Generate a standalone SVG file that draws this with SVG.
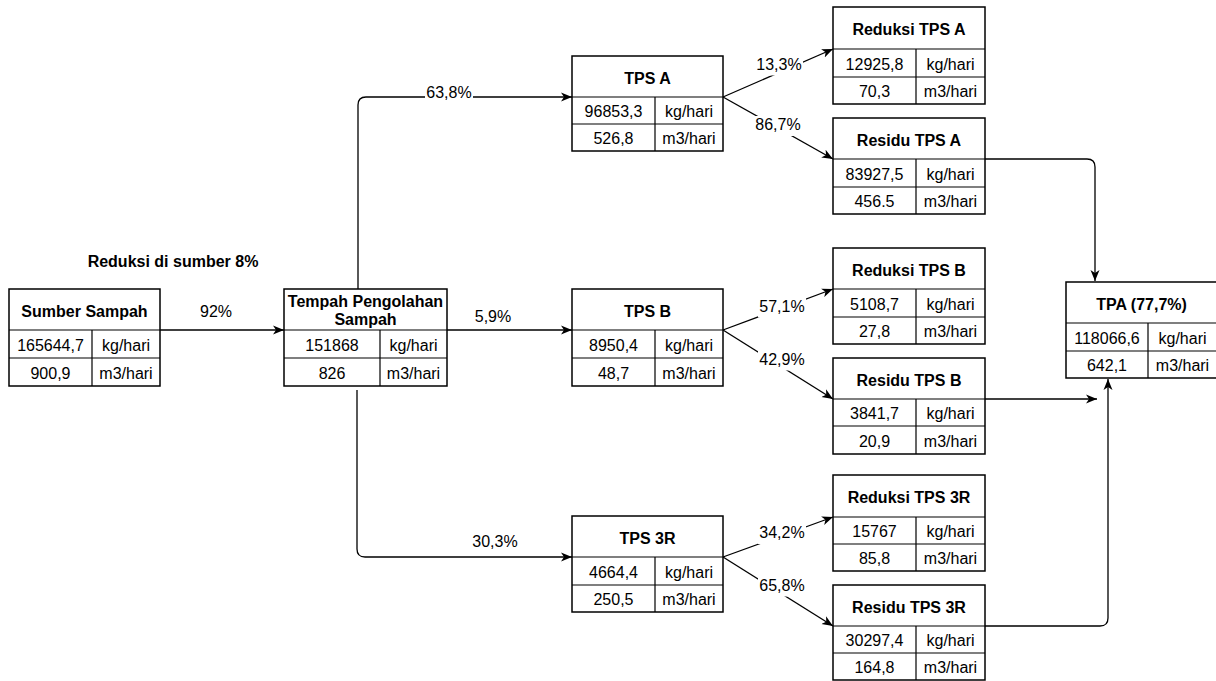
<svg xmlns="http://www.w3.org/2000/svg" width="1216" height="681" viewBox="0 0 1216 681">
<style>
.box{fill:#fff;stroke:#000;stroke-width:1.5}
.ln{fill:none;stroke:#000;stroke-width:1.2}
.hd{font-family:"Liberation Sans",Arial,sans-serif;font-size:16px;font-weight:bold;text-anchor:middle;fill:#000}
.tx{font-family:"Liberation Sans",Arial,sans-serif;font-size:16px;text-anchor:middle;fill:#000}
.edge{fill:none;stroke:#000;stroke-width:1.3;marker-end:url(#arr)}
.lb{fill:#fff}
</style>
<defs>
<marker id="arr" markerUnits="userSpaceOnUse" markerWidth="12" markerHeight="10" viewBox="0 0 12 10" refX="11" refY="5" orient="auto">
<path d="M0,0.5 L11,5 L0,9.5 L3,5 Z" fill="#000"/>
</marker>
</defs>
<rect width="1216" height="681" fill="#fff"/>

<g id="connectors">
<path class="edge" d="M160,330 H284"/>
<path class="edge" d="M358,289 V105 Q358,97 366,97 H572"/>
<path class="edge" d="M447,330 H572"/>
<path class="edge" d="M357,390 V549 Q357,557 365,557 H572"/>
<path class="edge" d="M723,97 L833,49"/>
<path class="edge" d="M723,97 L833,159"/>
<path class="edge" d="M723,330 L833,289"/>
<path class="edge" d="M723,330 L833,399"/>
<path class="edge" d="M723,557 L833,517"/>
<path class="edge" d="M723,557 L833,626"/>
<path class="edge" d="M985,159 H1087 Q1095,159 1095,167 V281"/>
<path class="edge" d="M985,399 H1097"/>
<path class="edge" d="M985,626 H1100 Q1108,626 1108,618 V379"/>
<g id="edge-labels">
<text class="tx" x="216" y="317">92%</text>
<rect class="lb" x="425" y="84" width="48" height="20"/>
<text class="tx" x="449" y="97.5">63,8%</text>
<text class="tx" x="493" y="321.5">5,9%</text>
<text class="tx" x="495" y="546.5">30,3%</text>
<rect class="lb" x="755" y="55.5" width="48" height="20"/>
<text class="tx" x="779" y="69.5">13,3%</text>
<rect class="lb" x="754" y="116" width="48" height="20"/>
<text class="tx" x="778" y="130">86,7%</text>
<rect class="lb" x="758" y="297.5" width="48" height="20"/>
<text class="tx" x="782" y="311.5">57,1%</text>
<rect class="lb" x="758" y="350.5" width="48" height="20"/>
<text class="tx" x="782" y="364.5">42,9%</text>
<rect class="lb" x="758" y="524" width="48" height="20"/>
<text class="tx" x="782" y="538">34,2%</text>
<rect class="lb" x="758" y="576.5" width="48" height="20"/>
<text class="tx" x="782" y="590.5">65,8%</text>
</g>
</g>

<g id="note">
<text class="hd" x="173" y="266.5">Reduksi di sumber 8%</text>
</g>

<g id="sumber">
<rect class="box" x="9" y="289" width="151" height="97"/>
<path class="ln" d="M9,330 H160 M9,358 H160 M92,330 V386"/>
<text class="hd" x="84.5" y="316.5">Sumber Sampah</text>
<text class="tx" x="50.5" y="350.5">165644,7</text>
<text class="tx" x="126" y="350.5">kg/hari</text>
<text class="tx" x="50.5" y="378.5">900,9</text>
<text class="tx" x="126" y="378.5">m3/hari</text>
</g>

<g id="tempah">
<rect class="box" x="284" y="289" width="163" height="97"/>
<path class="ln" d="M284,330 H447 M284,358 H447 M380,330 V386"/>
<text class="hd" x="365.5" y="307">Tempah Pengolahan</text>
<text class="hd" x="365.5" y="325">Sampah</text>
<text class="tx" x="332" y="350.5">151868</text>
<text class="tx" x="413.5" y="350.5">kg/hari</text>
<text class="tx" x="332" y="378.5">826</text>
<text class="tx" x="413.5" y="378.5">m3/hari</text>
</g>

<g id="tps-a">
<rect class="box" x="572" y="56" width="151" height="95"/>
<path class="ln" d="M572,97 H723 M572,124 H723 M655,97 V151"/>
<text class="hd" x="647.5" y="83.5">TPS A</text>
<text class="tx" x="613.5" y="117">96853,3</text>
<text class="tx" x="689" y="117">kg/hari</text>
<text class="tx" x="613.5" y="144">526,8</text>
<text class="tx" x="689" y="144">m3/hari</text>
</g>

<g id="tps-b">
<rect class="box" x="572" y="289" width="151" height="97"/>
<path class="ln" d="M572,330 H723 M572,358 H723 M655,330 V386"/>
<text class="hd" x="647.5" y="316.5">TPS B</text>
<text class="tx" x="613.5" y="350.5">8950,4</text>
<text class="tx" x="689" y="350.5">kg/hari</text>
<text class="tx" x="613.5" y="378.5">48,7</text>
<text class="tx" x="689" y="378.5">m3/hari</text>
</g>

<g id="tps-3r">
<rect class="box" x="572" y="516" width="151" height="96"/>
<path class="ln" d="M572,557 H723 M572,585 H723 M655,557 V612"/>
<text class="hd" x="647.5" y="543.5">TPS 3R</text>
<text class="tx" x="613.5" y="577.5">4664,4</text>
<text class="tx" x="689" y="577.5">kg/hari</text>
<text class="tx" x="613.5" y="605">250,5</text>
<text class="tx" x="689" y="605">m3/hari</text>
</g>

<g id="reduksi-tps-a">
<rect class="box" x="833" y="7" width="152" height="97"/>
<path class="ln" d="M833,49 H985 M833,77 H985 M916,49 V104"/>
<text class="hd" x="909" y="35">Reduksi TPS A</text>
<text class="tx" x="874.5" y="69.5">12925,8</text>
<text class="tx" x="950.5" y="69.5">kg/hari</text>
<text class="tx" x="874.5" y="97">70,3</text>
<text class="tx" x="950.5" y="97">m3/hari</text>
</g>

<g id="residu-tps-a">
<rect class="box" x="833" y="118" width="152" height="96"/>
<path class="ln" d="M833,159 H985 M833,187 H985 M916,159 V214"/>
<text class="hd" x="909" y="145.5">Residu TPS A</text>
<text class="tx" x="874.5" y="179.5">83927,5</text>
<text class="tx" x="950.5" y="179.5">kg/hari</text>
<text class="tx" x="874.5" y="207">456.5</text>
<text class="tx" x="950.5" y="207">m3/hari</text>
</g>

<g id="reduksi-tps-b">
<rect class="box" x="833" y="248" width="152" height="96"/>
<path class="ln" d="M833,289 H985 M833,317 H985 M916,289 V344"/>
<text class="hd" x="909" y="275.5">Reduksi TPS B</text>
<text class="tx" x="874.5" y="309.5">5108,7</text>
<text class="tx" x="950.5" y="309.5">kg/hari</text>
<text class="tx" x="874.5" y="337">27,8</text>
<text class="tx" x="950.5" y="337">m3/hari</text>
</g>

<g id="residu-tps-b">
<rect class="box" x="833" y="358" width="152" height="96"/>
<path class="ln" d="M833,399 H985 M833,426 H985 M916,399 V454"/>
<text class="hd" x="909" y="385.5">Residu TPS B</text>
<text class="tx" x="874.5" y="419">3841,7</text>
<text class="tx" x="950.5" y="419">kg/hari</text>
<text class="tx" x="874.5" y="446.5">20,9</text>
<text class="tx" x="950.5" y="446.5">m3/hari</text>
</g>

<g id="reduksi-tps-3r">
<rect class="box" x="833" y="475" width="152" height="96"/>
<path class="ln" d="M833,517 H985 M833,544 H985 M916,517 V571"/>
<text class="hd" x="909" y="503">Reduksi TPS 3R</text>
<text class="tx" x="874.5" y="537">15767</text>
<text class="tx" x="950.5" y="537">kg/hari</text>
<text class="tx" x="874.5" y="564">85,8</text>
<text class="tx" x="950.5" y="564">m3/hari</text>
</g>

<g id="residu-tps-3r">
<rect class="box" x="833" y="585" width="152" height="95"/>
<path class="ln" d="M833,626 H985 M833,653 H985 M916,626 V680"/>
<text class="hd" x="909" y="612.5">Residu TPS 3R</text>
<text class="tx" x="874.5" y="646">30297,4</text>
<text class="tx" x="950.5" y="646">kg/hari</text>
<text class="tx" x="874.5" y="673">164,8</text>
<text class="tx" x="950.5" y="673">m3/hari</text>
</g>

<g id="tpa">
<rect class="box" x="1066" y="282" width="152" height="96"/>
<path class="ln" d="M1066,323 H1218 M1066,351 H1218 M1148,323 V378"/>
<text class="hd" x="1141.5" y="309.5">TPA (77,7%)</text>
<text class="tx" x="1107" y="343.5">118066,6</text>
<text class="tx" x="1182.5" y="343.5">kg/hari</text>
<text class="tx" x="1107" y="371">642,1</text>
<text class="tx" x="1182.5" y="371">m3/hari</text>
</g>
</svg>
